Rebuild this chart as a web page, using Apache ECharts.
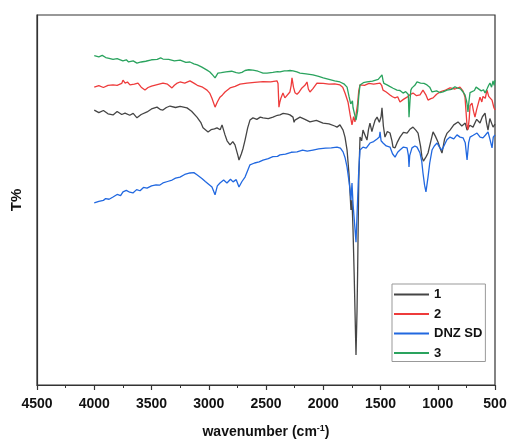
<!DOCTYPE html>
<html lang="en">
<head>
    <meta charset="UTF-8">
    <title>FTIR</title>
    <script src="https://cdn.jsdelivr.net/npm/echarts@6/dist/echarts.min.js"></script>
    <style>
        html, body { margin: 0; padding: 0; background: #fff; }
    </style>
</head>
<body>
<div id="main" style="width: 508px;height:441px;"></div>
<script type="text/javascript">
    // [wavenumber (cm-1), transmittance (a.u., traces offset)]
    var s1 = [[4000,74.3],[3960,73.6],[3920,74.2],[3880,73.3],[3836,73.0],[3800,73.9],[3760,73.1],[3731,73.5],[3690,72.9],[3660,73.4],[3627,72.2],[3590,73.1],[3539,73.8],[3500,74.6],[3452,75.1],[3420,74.4],[3400,74.3],[3370,75.0],[3338,75.4],[3290,75.0],[3250,75.3],[3190,74.9],[3150,74.0],[3103,72.4],[3070,71.0],[3050,69.5],[3006,68.4],[2980,69.0],[2950,69.2],[2928,69.5],[2900,69.0],[2884,70.3],[2858,67.6],[2840,66.0],[2814,64.9],[2790,65.8],[2771,64.9],[2745,62.0],[2736,60.8],[2715,62.5],[2700,64.0],[2683,66.2],[2660,69.5],[2640,71.6],[2614,72.2],[2580,71.8],[2550,72.4],[2526,72.2],[2480,72.0],[2439,72.4],[2400,72.9],[2378,73.0],[2350,73.4],[2334,73.8],[2310,73.2],[2291,73.0],[2264,72.4],[2255,71.0],[2247,71.6],[2203,72.4],[2160,71.8],[2116,71.1],[2060,71.5],[2002,70.8],[1950,70.6],[1900,70.0],[1880,69.7],[1854,70.3],[1827,68.9],[1810,67.0],[1792,63.5],[1775,57.0],[1766,52.0],[1758,47.3],[1749,50.0],[1740,42.0],[1730,30.0],[1714,8.1],[1705,20.0],[1700,30.0],[1690,55.0],[1679,67.0],[1665,66.0],[1653,68.9],[1635,67.5],[1618,66.2],[1605,69.0],[1592,70.8],[1575,68.5],[1565,69.7],[1548,71.5],[1530,72.4],[1510,71.0],[1495,72.5],[1487,74.9],[1475,70.0],[1461,67.0],[1440,68.5],[1417,68.1],[1400,66.0],[1391,64.3],[1373,64.1],[1355,65.5],[1330,67.0],[1300,68.3],[1268,68.1],[1240,69.2],[1216,69.7],[1190,68.8],[1172,68.1],[1150,64.5],[1138,61.6],[1125,60.5],[1111,60.0],[1100,61.8],[1085,62.7],[1060,66.0],[1041,68.4],[1020,67.2],[998,65.7],[980,64.0],[963,62.7],[940,66.5],[920,68.0],[893,68.9],[860,70.3],[823,71.1],[790,70.0],[760,70.8],[744,68.9],[720,70.2],[692,69.7],[660,71.8],[631,70.8],[610,72.5],[587,73.5],[575,71.0],[561,68.9],[545,72.0],[530,71.5],[517,69.7],[500,70.5]];

    var s2 = [[4000,80.5],[3960,80.9],[3920,80.4],[3880,81.0],[3836,81.1],[3800,81.0],[3760,81.5],[3749,82.4],[3730,81.6],[3710,81.9],[3688,81.1],[3650,81.3],[3618,81.6],[3590,80.5],[3557,79.7],[3530,80.4],[3500,80.8],[3450,81.2],[3400,81.6],[3360,81.3],[3321,80.3],[3300,81.0],[3280,81.5],[3251,81.9],[3210,81.6],[3164,82.2],[3130,81.6],[3100,81.0],[3060,80.6],[3015,79.7],[2990,78.8],[2972,77.5],[2945,75.1],[2925,76.5],[2902,77.8],[2880,78.4],[2858,79.2],[2814,80.3],[2770,80.7],[2727,81.3],[2666,81.6],[2600,81.8],[2526,82.0],[2460,81.9],[2404,82.2],[2395,81.5],[2387,75.1],[2380,76.3],[2370,77.5],[2352,78.9],[2335,77.6],[2320,78.0],[2291,79.2],[2280,81.0],[2273,83.0],[2260,80.5],[2247,79.0],[2229,78.6],[2210,79.2],[2186,80.3],[2160,81.0],[2142,81.9],[2130,80.0],[2116,79.2],[2090,80.1],[2055,81.6],[2000,81.5],[1950,81.3],[1900,81.4],[1854,81.1],[1830,80.5],[1810,78.9],[1784,76.5],[1765,73.0],[1749,70.3],[1735,72.5],[1723,71.1],[1700,76.0],[1690,79.5],[1679,81.1],[1640,81.0],[1600,81.5],[1560,81.3],[1504,81.6],[1490,81.0],[1478,79.7],[1450,79.2],[1417,78.4],[1395,77.9],[1373,77.6],[1350,77.9],[1330,76.5],[1300,77.2],[1268,77.8],[1240,78.5],[1216,78.9],[1185,78.2],[1155,78.4],[1129,79.7],[1105,78.5],[1085,77.0],[1060,77.4],[1041,77.6],[1010,78.6],[980,79.2],[940,79.6],[893,80.3],[850,80.0],[806,80.5],[780,79.5],[762,77.8],[744,70.0],[736,69.0],[725,72.0],[718,75.5],[701,76.2],[688,74.0],[675,72.4],[660,74.5],[650,75.0],[631,77.8],[615,76.5],[605,78.0],[585,77.5],[570,79.7],[555,78.0],[540,78.5],[526,77.0],[510,75.0],[500,74.3]];

    var sD = [[4000,49.2],[3960,49.6],[3920,49.9],[3900,50.4],[3870,50.2],[3836,50.8],[3800,51.5],[3770,51.2],[3749,52.2],[3720,52.6],[3690,52.1],[3662,51.9],[3630,52.8],[3600,52.5],[3570,53.4],[3539,53.2],[3500,53.8],[3460,54.1],[3430,54.0],[3400,54.6],[3360,55.0],[3320,55.4],[3290,55.9],[3251,56.2],[3210,56.9],[3164,57.3],[3130,57.4],[3103,56.8],[3060,55.8],[3030,55.0],[3015,54.6],[2972,53.5],[2945,51.4],[2925,53.8],[2902,54.6],[2870,55.4],[2841,54.6],[2810,55.6],[2788,54.9],[2760,55.5],[2736,53.5],[2710,55.0],[2683,56.2],[2660,58.0],[2640,59.5],[2600,60.0],[2560,60.3],[2526,60.8],[2480,61.2],[2440,61.7],[2400,61.8],[2378,62.2],[2330,62.4],[2280,62.9],[2229,63.0],[2180,63.5],[2140,63.2],[2090,63.5],[2040,63.8],[1980,64.0],[1930,64.1],[1880,64.3],[1850,64.0],[1827,63.0],[1810,61.5],[1792,58.9],[1775,55.0],[1766,52.7],[1758,50.0],[1749,54.6],[1740,49.0],[1730,45.0],[1714,38.6],[1700,50.0],[1690,58.0],[1679,63.5],[1665,63.0],[1653,64.3],[1625,64.0],[1592,65.4],[1560,65.8],[1530,66.5],[1510,67.0],[1504,68.4],[1495,66.0],[1478,65.4],[1450,64.6],[1417,64.3],[1395,62.5],[1373,61.6],[1350,62.9],[1330,63.5],[1300,64.3],[1268,64.1],[1256,62.0],[1251,58.9],[1245,62.0],[1225,64.1],[1200,64.6],[1181,64.3],[1155,62.7],[1140,60.5],[1129,57.3],[1115,54.0],[1103,52.2],[1085,56.2],[1070,60.0],[1050,63.5],[1030,64.6],[1006,65.4],[985,64.3],[963,63.5],[940,65.0],[920,66.3],[893,67.0],[860,66.5],[832,67.6],[805,67.0],[779,66.8],[760,65.5],[744,60.8],[730,65.5],[718,67.0],[690,67.5],[657,68.1],[630,67.0],[605,66.8],[585,67.5],[561,68.4],[545,66.5],[526,64.1],[515,67.0],[500,67.6]];

    var s3 = [[4000,89.0],[3960,88.7],[3930,89.1],[3900,88.5],[3870,88.3],[3836,88.0],[3800,88.2],[3750,87.6],[3720,87.9],[3700,87.3],[3660,87.6],[3627,87.0],[3590,87.3],[3550,87.5],[3500,87.9],[3450,88.0],[3420,88.4],[3400,88.1],[3350,88.0],[3300,87.6],[3250,87.8],[3200,87.2],[3164,87.3],[3130,86.8],[3100,86.5],[3060,85.9],[3015,85.1],[2990,84.6],[2972,84.0],[2945,83.0],[2935,83.4],[2920,84.3],[2890,84.4],[2850,84.6],[2800,84.8],[2760,84.4],[2736,84.3],[2710,84.5],[2683,85.0],[2650,85.2],[2614,85.1],[2570,84.8],[2526,84.3],[2491,84.3],[2440,84.5],[2400,84.7],[2378,84.6],[2340,84.9],[2317,84.9],[2290,85.0],[2264,84.9],[2230,84.6],[2203,84.3],[2150,84.1],[2090,83.8],[2040,83.4],[2000,83.0],[1950,82.6],[1900,82.2],[1854,81.9],[1820,81.4],[1792,80.5],[1775,78.0],[1760,76.0],[1745,76.8],[1740,75.0],[1725,73.0],[1714,71.6],[1700,74.0],[1690,78.0],[1679,81.1],[1650,81.7],[1618,81.9],[1570,82.1],[1520,82.6],[1504,82.4],[1487,83.8],[1478,82.3],[1470,81.5],[1443,81.1],[1420,80.7],[1390,80.2],[1356,79.7],[1330,79.6],[1303,78.9],[1280,79.3],[1268,79.7],[1257,78.5],[1251,72.4],[1242,77.0],[1235,79.7],[1225,80.3],[1200,81.0],[1181,81.9],[1150,81.6],[1120,81.5],[1094,81.1],[1070,80.5],[1050,79.2],[1010,79.5],[980,79.0],[954,79.2],[919,79.7],[880,79.9],[850,80.6],[832,80.3],[800,80.0],[775,79.0],[762,78.4],[750,77.0],[744,76.0],[736,73.8],[728,76.5],[718,79.0],[701,78.9],[680,79.6],[665,80.5],[648,80.3],[620,79.5],[600,79.8],[587,78.9],[570,80.0],[555,81.0],[544,81.6],[530,80.5],[517,82.2],[508,81.0],[500,82.4]];

    var names = ['1', '2', 'DNZ SD', '3'];
    var colors = ['#454545', '#ee3b3b', '#2168e0', '#2aa35e'];

    var myChart = echarts.init(document.getElementById('main'));
    var lineW = 1.3;
    var font = 'Liberation Sans';
    var data = [s1, s2, sD, s3];
    var series = [];
    for (var i = 0; i < data.length; i++) {
        series.push({
            name: names[i], type: 'line', symbol: 'none', data: data[i],
            lineStyle: { color: colors[i], width: lineW },
            itemStyle: { color: colors[i] }
        });
    }
    myChart.setOption({
        animation: false,
        grid: {
            left: 37, right: 13, top: 15, bottom: 56,
            outerBoundsMode: 'none',
            show: true, borderColor: '#333', borderWidth: 1.2
        },
        legend: {
            orient: 'vertical',
            left: 392, top: 284,
            padding: [4, 3, 2, 2],
            icon: 'rect',
            itemWidth: 35, itemHeight: 2, itemGap: 6.5,
            borderColor: '#999', borderWidth: 1,
            backgroundColor: '#fff',
            textStyle: { fontFamily: font, fontWeight: 'bold', fontSize: 13, lineHeight: 13, color: '#111' },
            data: names
        },
        xAxis: {
            type: 'value',
            inverse: true,
            min: 500, max: 4500, interval: 500,
            name: '{a|wavenumber (cm}{s|-1}{a|)}',
            nameLocation: 'middle', nameGap: 39,
            nameTextStyle: {
                rich: {
                    a: { fontFamily: font, fontWeight: 'bold', fontSize: 14, color: '#111' },
                    s: { fontFamily: font, fontWeight: 'bold', fontSize: 9, color: '#111', verticalAlign: 'top', padding: [0, 0, 8, 0] }
                }
            },
            axisLine: { lineStyle: { color: '#333', width: 1.2 } },
            axisTick: { inside: false, length: 5, lineStyle: { color: '#333', width: 1.2 } },
            minorTick: { show: true, splitNumber: 2, length: 3, lineStyle: { color: '#333', width: 1 } },
            axisLabel: {
                fontFamily: font, fontWeight: 'bold', fontSize: 14, color: '#111', margin: 12,
                formatter: function (v) { return String(v); }
            },
            splitLine: { show: false }
        },
        yAxis: {
            type: 'value', min: 0, max: 100,
            name: 'T%', nameLocation: 'middle', nameGap: 13, nameRotate: 90,
            nameTextStyle: { fontFamily: font, fontWeight: 'bold', fontSize: 15, color: '#111' },
            axisLine: { show: true, lineStyle: { color: '#333', width: 1.2 } },
            axisTick: { show: false },
            axisLabel: { show: false },
            splitLine: { show: false }
        },
        series: series
    });
</script>
</body>
</html>
